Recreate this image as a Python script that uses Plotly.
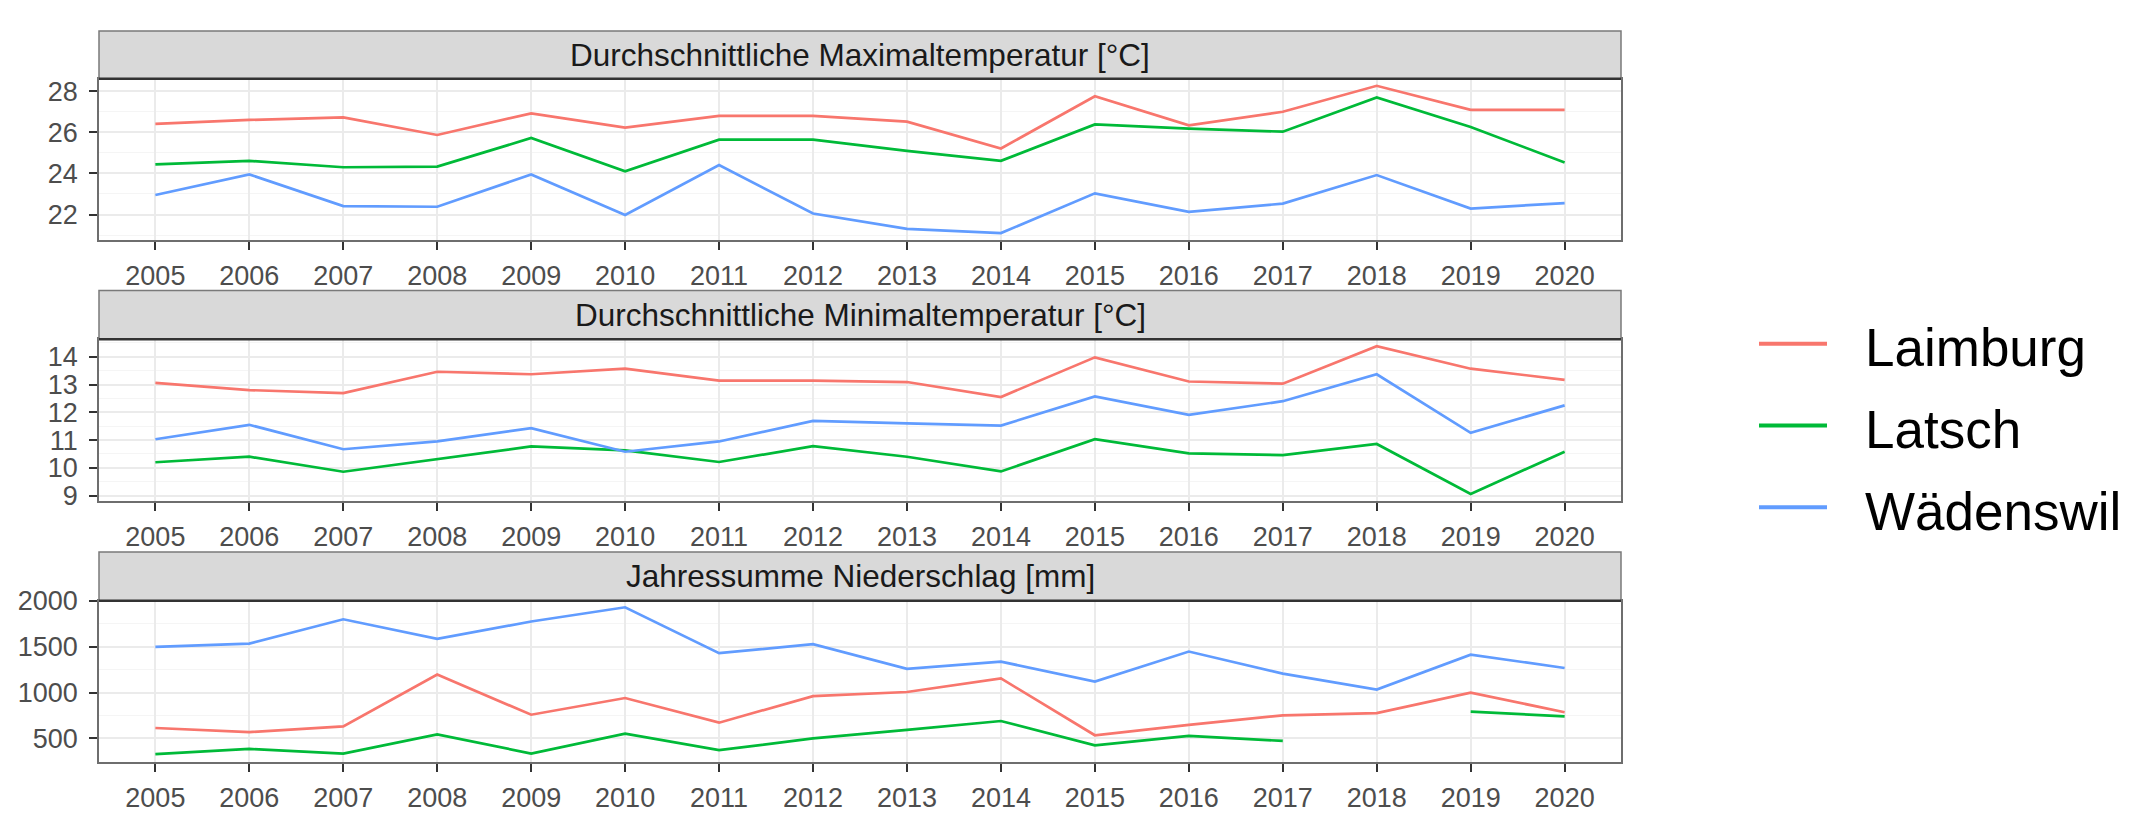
import plotly.graph_objects as go

years = list(range(2005, 2021))
stations = ["Laimburg", "Latsch", "Wädenswil"]
colors = ["#F8766D", "#00BA38", "#619CFF"]

panel_titles = [
    "Durchschnittliche Maximaltemperatur [°C]",
    "Durchschnittliche Minimaltemperatur [°C]",
    "Jahressumme Niederschlag [mm]",
]

tmax_laimburg = [26.41, 26.60, 26.72, 25.87, 26.92, 26.23, 26.80, 26.80, 26.52, 25.21, 27.75, 26.34, 27.00, 28.26, 27.09, 27.09]
tmax_latsch = [24.44, 24.61, 24.30, 24.33, 25.72, 24.10, 25.64, 25.64, 25.10, 24.61, 26.38, 26.18, 26.03, 27.69, 26.26, 24.53]
tmax_waedenswil = [22.95, 23.95, 22.41, 22.38, 23.95, 21.98, 24.41, 22.05, 21.30, 21.10, 23.03, 22.13, 22.53, 23.92, 22.29, 22.56]

tmin_laimburg = [13.06, 12.80, 12.69, 13.46, 13.37, 13.57, 13.14, 13.14, 13.09, 12.55, 13.98, 13.11, 13.03, 14.38, 13.57, 13.17]
tmin_latsch = [10.20, 10.40, 9.86, 10.31, 10.77, 10.63, 10.21, 10.78, 10.40, 9.87, 11.03, 10.52, 10.46, 10.86, 9.06, 10.58]
tmin_waedenswil = [11.03, 11.55, 10.67, 10.95, 11.43, 10.58, 10.95, 11.69, 11.60, 11.52, 12.57, 11.91, 12.40, 13.37, 11.26, 12.25]

prec_laimburg = [614, 569, 631, 1197, 759, 941, 672, 962, 1007, 1155, 535, 648, 752, 776, 1000, 786]
prec_latsch = [328, 386, 335, 545, 335, 552, 373, 500, 593, 690, 424, 528, 473, None, 793, 741]
prec_waedenswil = [1500, 1534, 1800, 1586, 1776, 1931, 1431, 1528, 1259, 1338, 1121, 1448, 1207, 1034, 1414, 1269]

y_ticks = [[22, 24, 26, 28], [9, 10, 11, 12, 13, 14], [500, 1000, 1500, 2000]]
y_minor = [[21, 23, 25, 27], [9.5, 10.5, 11.5, 12.5, 13.5, 14.5], [250, 750, 1250, 1750]]
y_ranges = [[20.77, 28.6], [8.81, 14.63], [243, 2003]]

panels = [
    [tmax_laimburg, tmax_latsch, tmax_waedenswil],
    [tmin_laimburg, tmin_latsch, tmin_waedenswil],
    [prec_laimburg, prec_latsch, prec_waedenswil],
]

W, H = 2139, 814
left, right = 91, 1613
top, bottom = 9, 778
plot_tops = [59.3, 333.3, 608.3]
plot_bots = [228.7, 503.3, 778]
strip_tops = [9, 282, 557]


def py(p):
    return (bottom - p) / (bottom - top)


def px(p):
    return (p - left) / (right - left)


fig = go.Figure()
layout = dict(
    width=W, height=H,
    margin=dict(l=left, r=W - right, t=top, b=H - bottom),
    paper_bgcolor="white", plot_bgcolor="white",
    font=dict(family="Liberation Sans, Arial, sans-serif", color="#4D4D4D"),
    showlegend=False,
)

shapes = []
annotations = []
for i in range(3):
    xa = "x" if i == 0 else f"x{i+1}"
    ya = "y" if i == 0 else f"y{i+1}"
    for s, (name, col) in enumerate(zip(stations, colors)):
        fig.add_trace(go.Scatter(
            x=years, y=panels[i][s], mode="lines", name=name,
            line=dict(color=col, width=2.7), legendgroup=name,
            xaxis=xa, yaxis=ya, connectgaps=False,
        ))
    dom = [py(plot_bots[i]), py(plot_tops[i])]
    axis_common = dict(
        showline=True, mirror=True, linecolor="#6E6E6E", linewidth=1.5,
        ticks="outside", ticklen=8, tickwidth=1.5, tickcolor="#333333",
        tickfont=dict(size=27, color="#4D4D4D"),
        zeroline=False,
    )
    layout["xaxis" if i == 0 else f"xaxis{i+1}"] = dict(
        domain=[0, 1], anchor=ya, range=[2004.4, 2020.6],
        tickmode="array", tickvals=years, ticktext=[str(y) for y in years],
        showgrid=True, gridcolor="#EBEBEB", gridwidth=1.5,
        ticklabelstandoff=3, **axis_common,
    )
    layout["yaxis" if i == 0 else f"yaxis{i+1}"] = dict(
        domain=dom, anchor=xa, range=y_ranges[i],
        tickmode="array", tickvals=y_ticks[i],
        showgrid=True, gridcolor="#EBEBEB", gridwidth=1.5,
        minor=dict(tickmode="array", tickvals=y_minor[i], showgrid=True,
                   gridcolor="#F5F5F5", gridwidth=1, ticks=""),
        ticklabelstandoff=6, **axis_common,
    )
    # facet strip
    shapes.append(dict(type="rect", xref="paper", yref="paper",
                       x0=0, x1=1, y0=py(plot_tops[i]), y1=py(strip_tops[i]),
                       fillcolor="#D9D9D9", line=dict(color="#7A7A7A", width=1.5), layer="above"))
    shapes.append(dict(type="line", xref="paper", yref="paper",
                       x0=0, x1=1, y0=py(plot_tops[i]), y1=py(plot_tops[i]),
                       line=dict(color="#333333", width=2.5), layer="above"))
    annotations.append(dict(text=panel_titles[i], xref="paper", yref="paper",
                            x=0.5, y=(py(plot_tops[i]) + py(strip_tops[i])) / 2,
                            xanchor="center", yanchor="middle", showarrow=False,
                            font=dict(size=31.5, color="#1A1A1A")))

# legend (drawn as keys + labels)
legend_rows = [338, 424, 510]
for name, col, ry in zip(stations, colors, legend_rows):
    shapes.append(dict(type="line", xref="paper", yref="paper",
                       x0=px(1751), x1=px(1819), y0=py(ry), y1=py(ry),
                       line=dict(color=col, width=4)))
    annotations.append(dict(text=name, xref="paper", yref="paper",
                            x=px(1855), y=py(ry + 4), xanchor="left", yanchor="middle",
                            showarrow=False, font=dict(size=53, color="#000000")))

layout["shapes"] = shapes
layout["annotations"] = annotations
fig.update_layout(**layout)
fig.write_html("out.html")
